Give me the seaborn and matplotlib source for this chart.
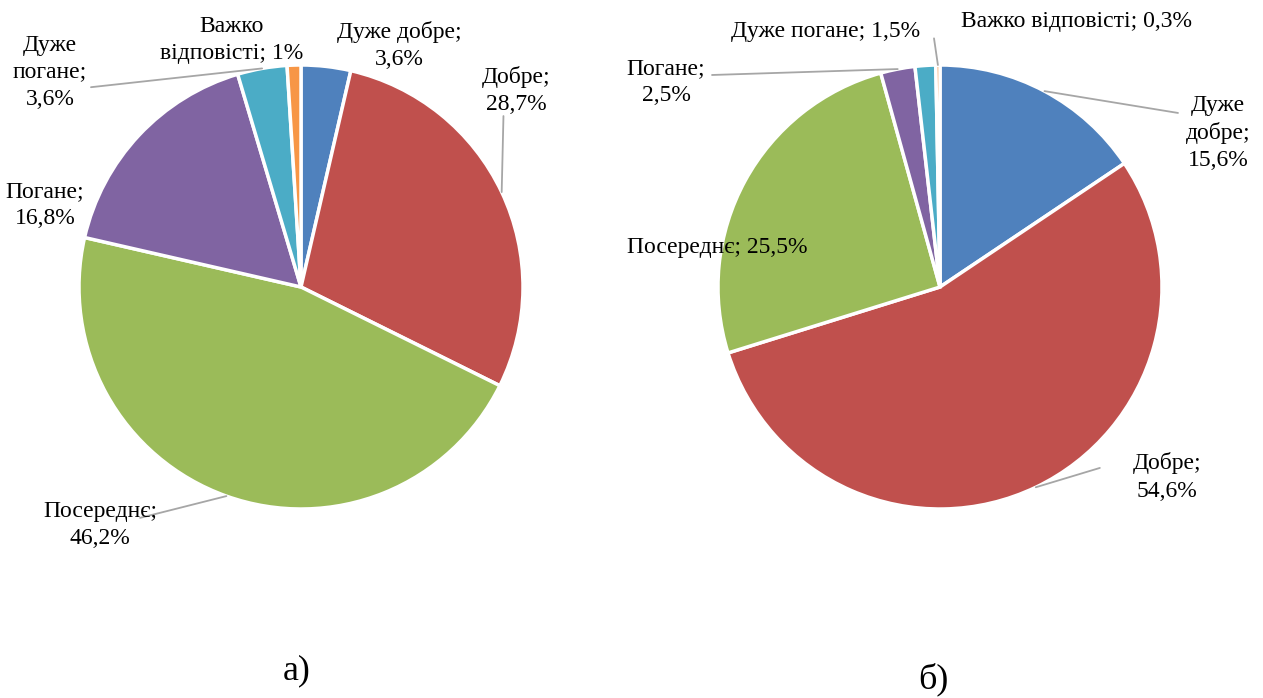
import numpy as np
import seaborn as sns
import matplotlib.pyplot as plt

# data
categories = ["Дуже добре", "Добре", "Посереднє", "Погане", "Дуже погане", "Важко відповісті"]
values_a = [3.6, 28.7, 46.2, 16.8, 3.6, 1.0]
values_b = [15.6, 54.6, 25.5, 2.5, 1.5, 0.3]
labels_a = ["Дуже добре;\n3,6%", "Добре;\n28,7%", "Посереднє;\n46,2%",
            "Погане;\n16,8%", "Дуже\nпогане;\n3,6%", "Важко\nвідповісті; 1%"]
labels_b = ["Дуже\nдобре;\n15,6%", "Добре;\n54,6%", "Посереднє; 25,5%",
            "Погане;\n2,5%", "Дуже погане; 1,5%", "Важко відповісті; 0,3%"]
captions = ["а)", "б)"]

sns.set_theme(style="white")
plt.rcParams['font.family'] = ['Liberation Serif', 'DejaVu Serif']
colors = sns.color_palette(["#4F81BD", "#C0504D", "#9BBB59", "#8064A2", "#4BACC6", "#F79646"])

# label positions (data units, pie radius = 1) and leader line ends (None = no line)
text_pos_a = [(0.441, 1.086), (0.968, 0.887), (-0.905, -1.072),
              (-1.153, 0.369), (-1.13, 0.968), (-0.311, 1.113)]
line_end_a = [None, (0.912, 0.77), (-0.725, -1.04), None, (-0.946, 0.9), None]
text_pos_b = [(1.252, 0.694), (1.023, -0.856), (-1.005, 0.18),
              (-1.234, 0.923), (-0.515, 1.149), (0.613, 1.194)]
line_end_b = [(1.072, 0.784), (0.72, -0.815), None, (-1.027, 0.955), None, (-0.027, 1.12)]

fig = plt.figure(figsize=(12.63, 6.98), dpi=100)
W, H = 1263, 698


def draw_pie(rect, values, labels, text_pos, line_end, caption, cap_xy):
    ax = fig.add_axes(rect)
    wedges, _ = ax.pie(values, colors=colors, startangle=90, counterclock=False,
                       wedgeprops=dict(edgecolor="white", linewidth=2.5))
    ax.set_xlim(-1, 1)
    ax.set_ylim(-1, 1)
    ax.set_aspect("equal")
    ax.axis("off")
    for w, lab, tp, le in zip(wedges, labels, text_pos, line_end):
        ang = np.deg2rad((w.theta1 + w.theta2) / 2)
        if le is not None:
            ax.annotate("", xy=(np.cos(ang), np.sin(ang)), xytext=le,
                        arrowprops=dict(arrowstyle="-", color="#A6A6A6", lw=1.3,
                                        shrinkA=0, shrinkB=0),
                        annotation_clip=False)
        ax.text(tp[0], tp[1], lab, ha="center", va="center", multialignment="center",
                fontsize=17, linespacing=1.38, color="black", clip_on=False)
    fig.text(cap_xy[0], cap_xy[1], caption, ha="center", va="center",
             fontsize=26, color="black")


draw_pie([79 / W, 189 / H, 444 / W, 444 / H], values_a, labels_a, text_pos_a, line_end_a,
         captions[0], (297 / W, 1 - 671 / H))
draw_pie([718 / W, 189 / H, 444 / W, 444 / H], values_b, labels_b, text_pos_b, line_end_b,
         captions[1], (933 / W, 1 - 679 / H))

fig.savefig("out.png", dpi=100, facecolor="white")
